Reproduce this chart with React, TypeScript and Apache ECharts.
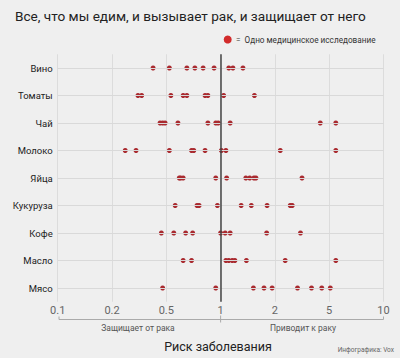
import React, { useEffect, useRef } from "react";
import * as echarts from "echarts";

const categories = ["Вино", "Томаты", "Чай", "Молоко", "Яйца", "Кукуруза", "Кофе", "Масло", "Мясо"];

const vino = [0.4, 0.52, 0.65, 0.72, 0.8, 0.92, 1.11, 1.17, 1.33];
const tomaty = [0.31, 0.33, 0.53, 0.62, 0.65, 0.82, 0.85, 1.04, 1.54];
const chai = [0.45, 0.47, 0.49, 0.58, 0.85, 0.94, 0.97, 1.13, 4.3, 5.44];
const moloko = [0.25, 0.3, 0.52, 0.69, 0.71, 0.82, 1.01, 1.07, 2.19, 5.44];
const yaitsa = [0.59, 0.6, 0.62, 0.94, 1.08, 1.38, 1.45, 1.53, 1.57, 3.16];
const kukuruza = [0.56, 0.74, 0.76, 0.96, 1.3, 1.48, 1.81, 2.59, 2.68];
const kofe = [0.46, 0.55, 0.64, 0.7, 1.0, 1.06, 1.13, 1.8, 3.08];
const maslo = [0.62, 0.69, 1.07, 1.11, 1.16, 1.2, 1.39, 2.38, 5.44];
const myaso = [0.47, 0.94, 1.52, 1.74, 1.93, 2.93, 3.71, 4.41, 5.07];

const rows = [vino, tomaty, chai, moloko, yaitsa, kukuruza, kofe, maslo, myaso];

const tickValues = [0.1, 0.2, 0.5, 1, 2, 5, 10];
const tickLabels = ["0.1", "0.2", "0.5", "1", "2", "5", "10"];

// position of a relative-risk value on the axis whose ticks 0.1,0.2,0.5,1,2,5,10 are evenly spaced
function pos(v: number): number {
  for (let i = 0; i < tickValues.length - 1; i++) {
    const a = tickValues[i];
    const b = tickValues[i + 1];
    if (v <= b || i === tickValues.length - 2) {
      return i + Math.log(v / a) / Math.log(b / a);
    }
  }
  return 0;
}

const FONT = "Roboto, 'Noto Sans', sans-serif";

export default function App() {
  const ref = useRef<HTMLDivElement>(null);
  useEffect(() => {
    if (!ref.current) return;
    const chart = echarts.init(ref.current, undefined, { renderer: "svg" });
    const data: [number, string][] = [];
    rows.forEach((vals, r) => {
      vals.forEach((v) => data.push([pos(v), categories[r]]));
    });
    const gridLeft = 57.7;
    const gridRight = 16.5;
    const gridTop = 54.25;
    const gridHeight = 247.5;
    const onePx = gridLeft + (400 - gridLeft - gridRight) * (3 / 6);
    const bracketY = 319.5;
    chart.setOption({
      animation: false,
      backgroundColor: "#efefef",
      textStyle: { fontFamily: FONT },
      grid: { left: gridLeft, right: gridRight, top: gridTop, height: gridHeight },
      xAxis: {
        type: "value",
        min: 0,
        max: 6,
        interval: 1,
        axisLine: { show: false },
        axisTick: { show: false },
        splitLine: { show: true, lineStyle: { color: "#dcdcdc", width: 1 } },
        axisLabel: {
          margin: 3,
          fontSize: 11,
          color: "#666",
          fontFamily: FONT,
          formatter: (v: number) => tickLabels[Math.round(v)] ?? "",
        },
      },
      yAxis: {
        type: "category",
        data: categories,
        inverse: true,
        axisLine: { show: false },
        axisTick: { show: false },
        splitLine: { show: false },
        axisLabel: { margin: 5, fontSize: 9.5, color: "#222", fontFamily: FONT },
      },
      series: [
        {
          type: "line",
          data: [],
          markLine: {
            silent: true,
            symbol: "none",
            label: { show: false },
            lineStyle: { color: "#d9d9d9", width: 1, type: "solid" },
            data: categories.map((c) => ({ yAxis: c })),
          },
        },
        {
          type: "scatter",
          symbolSize: 5,
          itemStyle: { color: "#a92a2f", opacity: 1 },
          data,
          z: 3,
          markLine: {
            silent: true,
            symbol: "none",
            label: { show: false },
            lineStyle: { color: "#444", width: 1.5, type: "solid" },
            data: [{ xAxis: 3 }],
          },
        },
      ],
      graphic: [
        {
          type: "text",
          left: 15,
          top: 9,
          style: {
            text: "Все, что мы едим, и вызывает рак, и защищает от него",
            fontSize: 13.6,
            fill: "#222",
            fontFamily: FONT,
          },
        },
        {
          type: "circle",
          shape: { cx: 227.7, cy: 39.5, r: 4 },
          style: { fill: "#d22b2b" },
        },
        {
          type: "text",
          x: 236,
          y: 39.5,
          style: {
            text: "=  Одно медицинское исследование",
            fontSize: 8.2,
            fill: "#333",
            fontFamily: FONT,
            verticalAlign: "middle",
          },
        },
        {
          type: "polyline",
          shape: {
            points: [
              [59, bracketY - 3],
              [59, bracketY],
              [383.5, bracketY],
              [383.5, bracketY - 3],
            ],
          },
          style: { stroke: "#aaa", lineWidth: 1, fill: "none" },
        },
        {
          type: "line",
          shape: { x1: onePx, y1: bracketY - 4, x2: onePx, y2: bracketY + 3 },
          style: { stroke: "#aaa", lineWidth: 1 },
        },
        {
          type: "text",
          x: 138,
          y: 328,
          style: {
            text: "Защищает от рака",
            fontSize: 8.5,
            fill: "#555",
            fontFamily: FONT,
            align: "center",
            verticalAlign: "middle",
          },
        },
        {
          type: "text",
          x: 303,
          y: 328,
          style: {
            text: "Приводит к раку",
            fontSize: 8.5,
            fill: "#555",
            fontFamily: FONT,
            align: "center",
            verticalAlign: "middle",
          },
        },
        {
          type: "text",
          x: 218,
          y: 346,
          style: {
            text: "Риск заболевания",
            fontSize: 12.5,
            fill: "#222",
            fontFamily: FONT,
            align: "center",
            verticalAlign: "middle",
          },
        },
        {
          type: "text",
          x: 394,
          y: 349.5,
          style: {
            text: "Инфографика: Vox",
            fontSize: 6.5,
            fill: "#666",
            fontFamily: FONT,
            align: "right",
            verticalAlign: "middle",
          },
        },
      ],
    });
    return () => chart.dispose();
  }, []);
  return (
    <div
      ref={ref}
      style={{ position: "fixed", left: 0, top: 0, width: 400, height: 358 }}
    />
  );
}
